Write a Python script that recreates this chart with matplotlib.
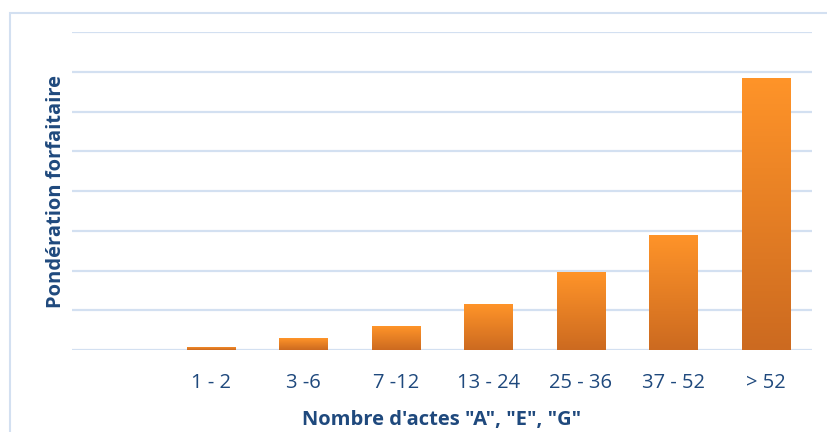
import numpy as np
import matplotlib.pyplot as plt
from matplotlib.colors import LinearSegmentedColormap
from matplotlib.patches import Rectangle

# Categories (first slot is empty in the original chart)
categories = ["", "1 - 2", "3 -6", "7 -12", "13 - 24", "25 - 36", "37 - 52", "> 52"]
# Values, in gridline units
weights = [0.0, 0.08, 0.3, 0.6, 1.15, 1.95, 2.9, 6.85]

text_color = "#1F497D"
grid_color = "#D3E0F1"
bar_top = "#FF9429"
bar_bottom = "#CC6A20"

plt.rcParams['font.family'] = ['Open Sans', 'DejaVu Sans']

fig = plt.figure(figsize=(8.27, 4.32), dpi=100)
ax = fig.add_axes([72 / 827, 1 - 350 / 432, 740 / 827, 318 / 432])

# outer chart border (cropped on right and bottom)
fig.patches.append(Rectangle((10 / 827, -0.1), 1.2, 1 - 13 / 432 + 0.1,
                             transform=fig.transFigure, fill=False,
                             edgecolor=grid_color, linewidth=1.5, zorder=0))

x = np.arange(len(categories))
width = 0.52

ax.set_yticks(np.arange(0, 9))
ax.yaxis.grid(True, color=grid_color, linewidth=1.6)
ax.set_axisbelow(True)
ax.tick_params(axis='y', left=False, labelleft=False)
ax.tick_params(axis='x', bottom=False, labelsize=14.5, labelcolor=text_color, pad=13)
for s in ax.spines.values():
    s.set_visible(False)

ax.set_xticks(x)
ax.set_xticklabels(categories)

cmap = LinearSegmentedColormap.from_list("orange", [bar_bottom, bar_top])
grad = np.linspace(0, 1, 256).reshape(-1, 1)
bars = ax.bar(x, weights, width=width, color="none", edgecolor="none", zorder=2)
for b, v in zip(bars, weights):
    if v <= 0:
        continue
    x0 = b.get_x()
    # soft shadow
    ax.add_patch(Rectangle((x0 + 0.01, 0), width, v, facecolor="#000000",
                           alpha=0.08, edgecolor="none", zorder=1.5))
    img = ax.imshow(grad, cmap=cmap, origin="lower", aspect="auto",
                    extent=(x0, x0 + width, 0, v), zorder=2)
    img.set_clip_path(b)

ax.set_xlim(-0.5, len(categories) - 0.5)
ax.set_ylim(0, 8)

ax.set_xlabel("Nombre d'actes \"A\", \"E\", \"G\"", fontsize=14.5, fontweight="bold",
              color=text_color, labelpad=12)
ax.set_ylabel("Pondération forfaitaire", fontsize=14.5, fontweight="bold",
              color=text_color, labelpad=4)

fig.savefig("out.png", dpi=100)
